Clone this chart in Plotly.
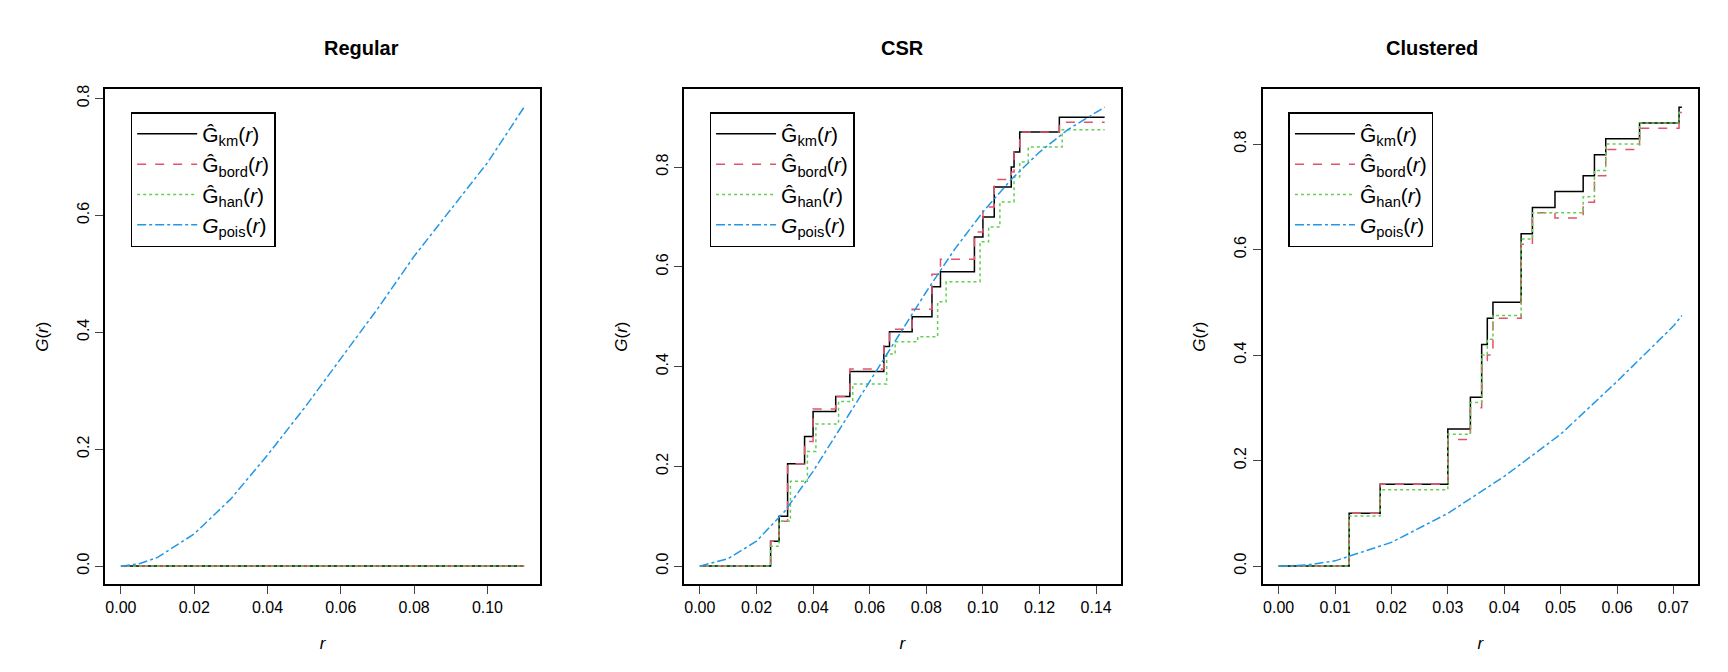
import plotly.graph_objects as go

# ---- data ----
# Regular pattern
reg_r = [0.0, 0.11]
reg_zero = [0.0, 0.0]
reg_pois_r = [0.0, 0.005, 0.01, 0.02, 0.03, 0.04, 0.05, 0.06, 0.07, 0.08, 0.09, 0.10, 0.11]
reg_pois_g = [0.0, 0.004, 0.015, 0.055, 0.115, 0.19, 0.27, 0.355, 0.44, 0.53, 0.61, 0.69, 0.785]

# CSR pattern (step functions: x where the step starts, value after the step)
csr_km_r = [0.0, 0.025, 0.028, 0.031, 0.037, 0.040, 0.048, 0.053, 0.065, 0.067, 0.075, 0.082, 0.085, 0.097, 0.100, 0.104, 0.110, 0.111, 0.113, 0.127, 0.143]
csr_km_g = [0.0, 0.05, 0.10, 0.205, 0.26, 0.31, 0.34, 0.39, 0.44, 0.47, 0.50, 0.56, 0.59, 0.66, 0.70, 0.76, 0.80, 0.83, 0.87, 0.90, 0.90]
csr_bord_g = [0.0, 0.05, 0.09, 0.205, 0.25, 0.315, 0.34, 0.395, 0.445, 0.475, 0.515, 0.585, 0.615, 0.67, 0.72, 0.775, 0.79, 0.84, 0.87, 0.89, 0.89]
csr_han_r = [0.0, 0.025, 0.028, 0.032, 0.038, 0.041, 0.049, 0.054, 0.066, 0.069, 0.077, 0.084, 0.087, 0.099, 0.102, 0.106, 0.111, 0.113, 0.116, 0.128, 0.143]
csr_han_g = [0.0, 0.04, 0.09, 0.17, 0.23, 0.285, 0.33, 0.365, 0.425, 0.45, 0.46, 0.53, 0.57, 0.65, 0.68, 0.73, 0.78, 0.81, 0.84, 0.875, 0.875]
csr_pois_r = [0.0, 0.01, 0.02, 0.03, 0.04, 0.05, 0.06, 0.07, 0.08, 0.09, 0.10, 0.11, 0.12, 0.13, 0.143]
csr_pois_g = [0.0, 0.015, 0.05, 0.11, 0.19, 0.28, 0.37, 0.46, 0.55, 0.635, 0.71, 0.775, 0.83, 0.875, 0.92]

# Clustered pattern
clu_km_r = [0.0, 0.0125, 0.018, 0.030, 0.034, 0.036, 0.037, 0.038, 0.043, 0.045, 0.049, 0.054, 0.056, 0.058, 0.064, 0.071, 0.0715]
clu_km_g = [0.0, 0.10, 0.155, 0.26, 0.32, 0.42, 0.47, 0.50, 0.63, 0.68, 0.71, 0.74, 0.78, 0.81, 0.84, 0.87, 0.87]
clu_bord_g = [0.0, 0.10, 0.155, 0.24, 0.30, 0.39, 0.40, 0.47, 0.61, 0.67, 0.66, 0.69, 0.74, 0.79, 0.83, 0.86, 0.86]
clu_han_g = [0.0, 0.095, 0.145, 0.25, 0.31, 0.40, 0.43, 0.475, 0.62, 0.67, 0.67, 0.70, 0.75, 0.80, 0.84, 0.86, 0.86]
clu_pois_r = [0.0, 0.005, 0.01, 0.02, 0.03, 0.04, 0.05, 0.06, 0.07, 0.0715]
clu_pois_g = [0.0, 0.002, 0.01, 0.045, 0.10, 0.17, 0.25, 0.35, 0.455, 0.475]

titles = ["Regular", "CSR", "Clustered"]
names = ["Ĝ<sub>km</sub>(<i>r</i>)", "Ĝ<sub>bord</sub>(<i>r</i>)",
         "Ĝ<sub>han</sub>(<i>r</i>)", "<i>G</i><sub>pois</sub>(<i>r</i>)"]
styles = [("black", "solid", "hv"), ("#DF536B", "dash", "hv"),
          ("#61D04F", "dot", "hv"), ("#2297E6", "dashdot", "linear")]

panels = [
    [(reg_r, reg_zero), (reg_r, reg_zero), (reg_r, reg_zero), (reg_pois_r, reg_pois_g)],
    [(csr_km_r, csr_km_g), (csr_km_r, csr_bord_g), (csr_han_r, csr_han_g), (csr_pois_r, csr_pois_g)],
    [(clu_km_r, clu_km_g), (clu_km_r, clu_bord_g), (clu_km_r, clu_han_g), (clu_pois_r, clu_pois_g)],
]
xmax = [0.11, 0.143, 0.0715]
ymax = [0.785, 0.92, 0.87]
xticks = [[0, 0.02, 0.04, 0.06, 0.08, 0.10], [0, 0.02, 0.04, 0.06, 0.08, 0.10, 0.12, 0.14],
          [0, 0.01, 0.02, 0.03, 0.04, 0.05, 0.06, 0.07]]
yticks = [0, 0.2, 0.4, 0.6, 0.8]
xdom = [(0.056, 0.308), (0.391, 0.644), (0.726, 0.978)]
ydom = (0.143, 0.885)

fig = go.Figure()
layout = {}
for i in range(3):
    sfx = "" if i == 0 else str(i + 1)
    leg = "legend" + sfx
    for j, (x, y) in enumerate(panels[i]):
        col, dash, shape = styles[j]
        fig.add_trace(go.Scatter(x=x, y=y, mode="lines", name=names[j],
                                 line=dict(color=col, dash=dash, shape=shape, width=1.5),
                                 xaxis="x" + sfx, yaxis="y" + sfx, legend=leg))
    xp, yp = xmax[i] * 0.04, ymax[i] * 0.04
    layout["xaxis" + sfx] = dict(domain=xdom[i], anchor="y" + sfx, range=[-xp, xmax[i] + xp],
                                 tickvals=xticks[i], ticktext=[f"{v:.2f}" for v in xticks[i]],
                                 ticks="outside", ticklen=8, showgrid=False, zeroline=False,
                                 showline=True, mirror=True, linecolor="black", linewidth=1.5,
                                 tickfont=dict(size=16),
                                 title=dict(text="<i>r</i>", standoff=22, font=dict(size=17)))
    layout["yaxis" + sfx] = dict(domain=ydom, anchor="x" + sfx, range=[-yp, ymax[i] + yp],
                                 tickvals=yticks, ticktext=[f"{v:.1f}" for v in yticks],
                                 tickangle=-90, ticks="outside", ticklen=8, showgrid=False,
                                 zeroline=False, showline=True, mirror=True, linecolor="black",
                                 linewidth=1.5, tickfont=dict(size=16),
                                 title=dict(text="<i>G</i>(<i>r</i>)", standoff=22, font=dict(size=17)))
    layout[leg] = dict(x=xdom[i][0] + 0.015, y=ydom[1] - 0.035, xanchor="left", yanchor="top",
                       bordercolor="black", borderwidth=1.5, font=dict(size=21),
                       bgcolor="white", tracegroupgap=6, itemwidth=60)
    fig.add_annotation(text=f"<b>{titles[i]}</b>", x=(xdom[i][0] + xdom[i][1]) / 2, y=0.965,
                       xref="paper", yref="paper", showarrow=False, font=dict(size=20))

fig.update_layout(**layout)
fig.update_layout(width=1728, height=672, margin=dict(l=0, r=0, t=0, b=0),
                  paper_bgcolor="white", plot_bgcolor="white",
                  font=dict(family="Liberation Sans, Arial", size=16, color="black"))
fig.write_html("out.html")
